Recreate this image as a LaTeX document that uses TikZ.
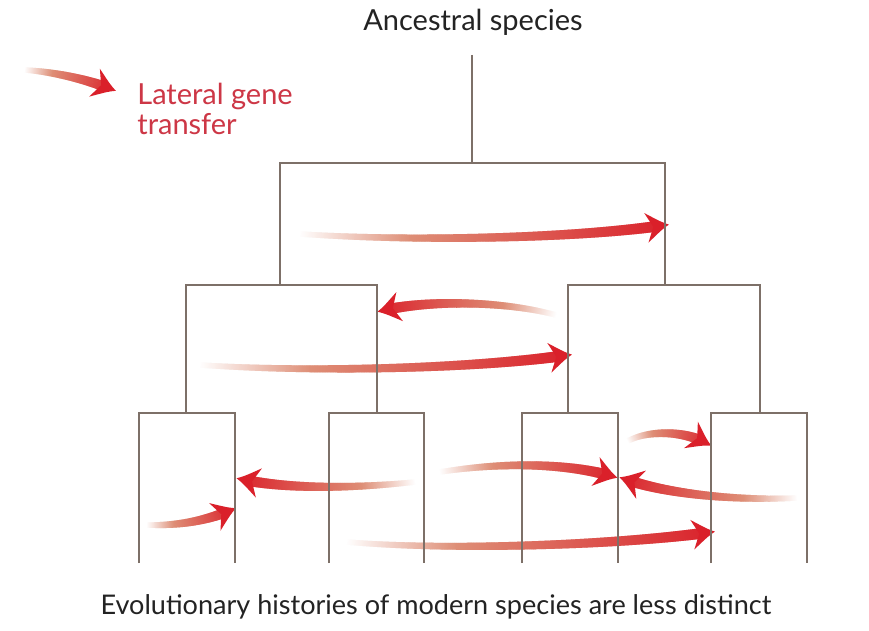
\documentclass[tikz,border=0pt]{standalone}
\usepackage{fontspec}
\setmainfont{Lato}
\usetikzlibrary{decorations.markings}
\definecolor{treeline}{RGB}{125,112,104}
\definecolor{arrowred}{RGB}{218,32,42}
\definecolor{salm}{RGB}{222,142,118}
\definecolor{legendred}{RGB}{205,55,70}
\definecolor{txt}{RGB}{35,35,35}
\newcommand\lgtslice{%
 \pgfmathsetmacro\lgts{\pgfkeysvalueof{/pgf/decoration/mark info/distance from start}/\pgfdecoratedpathlength}%
 \pgfmathsetmacro\lgtw{1.5+1.6*\lgts}%
 \ifdim\lgts pt<0.3pt
   \pgfmathsetmacro\lgtf{\lgts*333}\edef\lgtc{salm!\lgtf!white}%
 \else
   \pgfmathsetmacro\lgtf{(\lgts-0.3)*142}\edef\lgtc{arrowred!\lgtf!salm}%
 \fi
 \fill[color=\lgtc] (-0.4pt,-\lgtw pt) rectangle (0.4pt,\lgtw pt);}
\tikzset{
 tree/.style={draw=treeline, line width=1.2pt},
 lgt/.style={postaction=decorate, decoration={markings,
   mark=between positions 0 and -6pt step 0.5pt with {\lgtslice},
   mark=at position -4pt with {\fill[arrowred] (4pt,0) .. controls (0pt,2pt) .. (-9pt,8.5pt) -- (-5pt,0) -- (-9pt,-8.5pt) .. controls (0pt,-2pt) .. (4pt,0) -- cycle;}}},
 lbl/.style={text=txt, inner sep=0pt}
}
\begin{document}
\begin{tikzpicture}[x=0.02cm,y=-0.02cm]
\useasboundingbox (0,0) rectangle (869,631);
\fill[white] (0,0) rectangle (869,631);
% coordinates
\coordinate (root) at (472,55);
\coordinate (j1) at (472,163);
\coordinate (aL) at (280,163); \coordinate (aR) at (665,163);
\coordinate (bL) at (280,285); \coordinate (bR) at (665,285);
\coordinate (c1) at (186,285); \coordinate (c2) at (377,285);
\coordinate (c3) at (568,285); \coordinate (c4) at (760,285);
\coordinate (d1) at (186,413); \coordinate (d2) at (377,413);
\coordinate (d3) at (568,413); \coordinate (d4) at (760,413);
\foreach \n/\xa/\xb in {1/139/235,2/329/424,3/522/618,4/711/807}{
  \coordinate (e\n a) at (\xa,413); \coordinate (e\n b) at (\xb,413);
  \coordinate (f\n a) at (\xa,563); \coordinate (f\n b) at (\xb,563);
}
% arrow endpoints
\coordinate (t1) at (300,234); \coordinate (h1) at (666,225);
\coordinate (t2) at (556,315); \coordinate (h2) at (377,312);
\coordinate (t3) at (200,365); \coordinate (h3) at (569,355);
\coordinate (t4) at (147,525); \coordinate (h4) at (236,508);
\coordinate (t5) at (415,482); \coordinate (h5) at (236,478);
\coordinate (t6) at (347,542); \coordinate (h6) at (712,532);
\coordinate (t7) at (440,472); \coordinate (h7) at (618,478);
\coordinate (t8) at (797,498); \coordinate (h8) at (619,477);
\coordinate (t9) at (628,441); \coordinate (h9) at (711,446);
\coordinate (t0) at (25,70);   \coordinate (h0) at (116,91);
% gene transfer arrows
\path[lgt] (t1) .. controls (420,242) and (580,238) .. (h1);
\path[lgt] (t2) .. controls (500,300) and (420,300) .. (h2);
\path[lgt] (t3) .. controls (320,373) and (480,368) .. (h3);
\path[lgt] (t4) .. controls (180,526) and (210,520) .. (h4);
\path[lgt] (t5) .. controls (350,489) and (280,489) .. (h5);
\path[lgt] (t6) .. controls (450,551) and (620,545) .. (h6);
\path[lgt] (t7) .. controls (510,461) and (575,464) .. (h7);
\path[lgt] (t8) .. controls (730,501) and (660,493) .. (h8);
\path[lgt] (t9) .. controls (650,429) and (690,431) .. (h9);
\path[lgt] (t0) .. controls (55,72) and (90,80) .. (h0);
% tree
\draw[tree] (root) -- (j1);
\draw[tree] (bL) -- (aL) -- (aR) -- (bR);
\draw[tree] (d1) -- (c1) -- (c2) -- (d2);
\draw[tree] (d3) -- (c3) -- (c4) -- (d4);
\foreach \n in {1,2,3,4}{\draw[tree] (f\n a) -- (e\n a) -- (e\n b) -- (f\n b);}
% texts
\node[lbl, font=\fontsize{16.5}{19}\selectfont] (title) at (473,22) {Ancestral species};
\node[lbl, font=\fontsize{15.4}{18}\selectfont] (caption) at (436,607) {Evolutionary histories of modern species are less distinct};
\node[lbl, text=legendred, anchor=base west, align=left, font=\fontsize{16.5}{17.6}\selectfont] (legend) at (137,135) {Lateral gene\\transfer};
\end{tikzpicture}
\end{document}
